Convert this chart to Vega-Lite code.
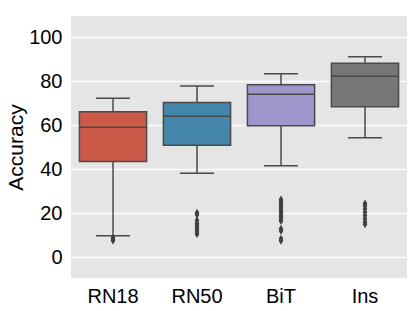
{
  "$schema": "https://vega.github.io/schema/vega-lite/v6.json",
  "width": 336,
  "height": 262,
  "autosize": "none",
  "padding": {"left": 71, "top": 16, "right": 8, "bottom": 33},
  "background": "white",
  "config": {
    "view": {"fill": "#E5E5E5", "stroke": null},
    "font": "Liberation Sans",
    "axis": {"labelFont": "Liberation Sans", "titleFont": "Liberation Sans", "labelColor": "#000000", "titleColor": "#000000"}
  },
  "datasets": {
    "boxes": [
      {"model": "RN18", "lower": 9.8, "q1": 43.6, "median": 59.1, "q3": 66.2, "upper": 72.3},
      {"model": "RN50", "lower": 38.2, "q1": 51.0, "median": 64.1, "q3": 70.4, "upper": 77.9},
      {"model": "BiT", "lower": 41.6, "q1": 59.8, "median": 74.1, "q3": 78.5, "upper": 83.5},
      {"model": "Ins", "lower": 54.4, "q1": 68.5, "median": 82.3, "q3": 88.2, "upper": 91.2}
    ],
    "outliers": [
      {"model": "RN18", "acc": 8.9}, {"model": "RN18", "acc": 8.0}, {"model": "RN18", "acc": 7.6},
      {"model": "RN50", "acc": 20.3}, {"model": "RN50", "acc": 19.3}, {"model": "RN50", "acc": 16.8},
      {"model": "RN50", "acc": 15.5}, {"model": "RN50", "acc": 14.5}, {"model": "RN50", "acc": 13.5},
      {"model": "RN50", "acc": 12.5}, {"model": "RN50", "acc": 11.5}, {"model": "RN50", "acc": 10.5},
      {"model": "BiT", "acc": 26.3}, {"model": "BiT", "acc": 25.5}, {"model": "BiT", "acc": 24.5},
      {"model": "BiT", "acc": 23.5}, {"model": "BiT", "acc": 22.5}, {"model": "BiT", "acc": 21.5},
      {"model": "BiT", "acc": 20.5}, {"model": "BiT", "acc": 19.5}, {"model": "BiT", "acc": 18.5},
      {"model": "BiT", "acc": 17.5}, {"model": "BiT", "acc": 16.5}, {"model": "BiT", "acc": 13.0},
      {"model": "BiT", "acc": 12.0}, {"model": "BiT", "acc": 8.5}, {"model": "BiT", "acc": 7.5},
      {"model": "Ins", "acc": 24.5}, {"model": "Ins", "acc": 23.5}, {"model": "Ins", "acc": 22.0},
      {"model": "Ins", "acc": 20.5}, {"model": "Ins", "acc": 19.0}, {"model": "Ins", "acc": 17.5},
      {"model": "Ins", "acc": 16.0}, {"model": "Ins", "acc": 15.0}
    ]
  },
  "encoding": {
    "x": {
      "field": "model", "type": "nominal",
      "sort": ["RN18", "RN50", "BiT", "Ins"],
      "scale": {"paddingInner": 0, "paddingOuter": 0},
      "axis": {"title": null, "labelAngle": 0, "labelFontSize": 20, "ticks": false, "labelPadding": 8, "domain": false, "grid": false}
    }
  },
  "layer": [
    {
      "data": {"name": "boxes"},
      "mark": {"type": "rule", "color": "#4a4a4a", "strokeWidth": 1.5},
      "encoding": {
        "y": {
          "field": "lower", "type": "quantitative",
          "scale": {"domain": [-9.4, 109.7], "nice": false, "zero": false},
          "axis": {"title": "Accuracy", "titleFontSize": 21, "titleFontWeight": "normal", "titlePadding": 2, "labelFontSize": 20, "labelPadding": 9, "ticks": false, "domain": false, "values": [0, 20, 40, 60, 80, 100], "gridColor": "#FFFFFF", "gridWidth": 1.5}
        },
        "y2": {"field": "upper"}
      }
    },
    {
      "data": {"name": "boxes"},
      "mark": {"type": "bar", "width": {"band": 0.8}, "stroke": "#4a4a4a", "strokeWidth": 1.5},
      "encoding": {
        "y": {"field": "q1", "type": "quantitative"},
        "y2": {"field": "q3"},
        "color": {
          "field": "model", "type": "nominal", "legend": null,
          "scale": {"domain": ["RN18", "RN50", "BiT", "Ins"], "range": ["#CC5A49", "#4586AC", "#9E97CC", "#777777"]}
        }
      }
    },
    {
      "data": {"name": "boxes"},
      "mark": {"type": "tick", "color": "#4a4a4a", "size": 67, "thickness": 1.5, "opacity": 1},
      "encoding": {"y": {"field": "median", "type": "quantitative"}}
    },
    {
      "data": {"name": "boxes"},
      "mark": {"type": "tick", "color": "#4a4a4a", "size": 34, "thickness": 1.5, "opacity": 1},
      "encoding": {"y": {"field": "upper", "type": "quantitative"}}
    },
    {
      "data": {"name": "boxes"},
      "mark": {"type": "tick", "color": "#4a4a4a", "size": 34, "thickness": 1.5, "opacity": 1},
      "encoding": {"y": {"field": "lower", "type": "quantitative"}}
    },
    {
      "data": {"name": "outliers"},
      "mark": {"type": "point", "shape": "M-0.6,0L0,-1L0.6,0L0,1Z", "filled": true, "color": "#3f3f3f", "size": 60, "opacity": 1},
      "encoding": {"y": {"field": "acc", "type": "quantitative"}}
    }
  ]
}
